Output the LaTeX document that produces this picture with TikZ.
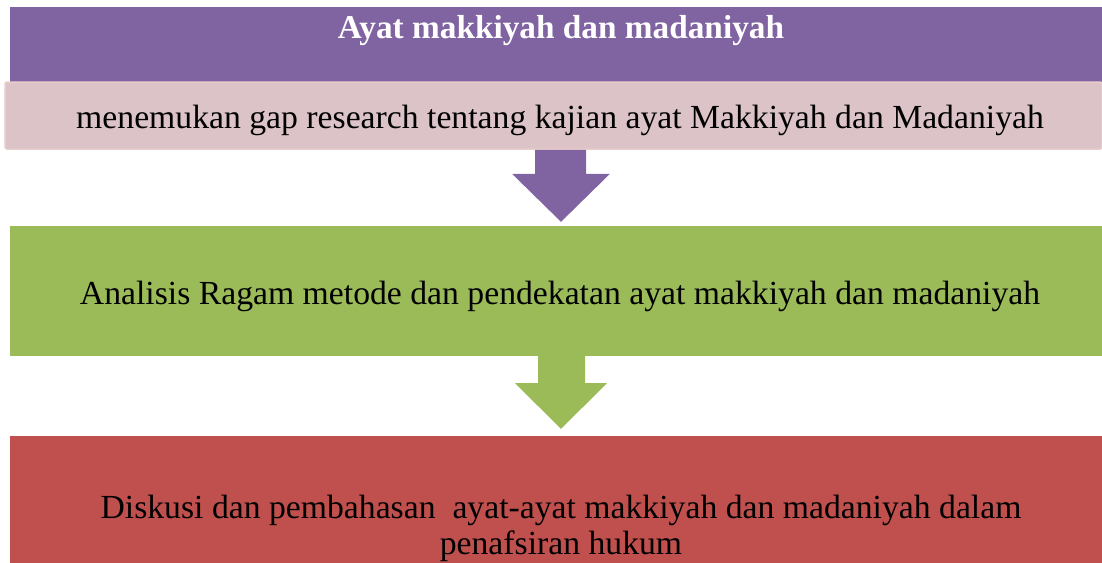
\documentclass[tikz,border=0pt]{standalone}
\usepackage{fontspec}
\setmainfont{Liberation Serif}
\usetikzlibrary{calc}
\definecolor{cpurple}{HTML}{8064A2}
\definecolor{cpink}{HTML}{DCC3C8}
\definecolor{cpinkedge}{HTML}{E8CDCC}
\definecolor{cgreen}{HTML}{9BBB59}
\definecolor{cred}{HTML}{C0504D}
\tikzset{
  band/.style={draw=none, inner sep=0pt, minimum width=1092pt},
  bodytext/.style={font=\fontsize{33.7}{36}\selectfont, anchor=base, align=center},
}
\begin{document}
\begin{tikzpicture}[x=1pt,y=-1pt]
\useasboundingbox (0,0) rectangle (1102,562);
\node[band, fill=cpurple, minimum height=75pt] (top) at (556,44.5) {};
\node[text=white, font=\fontsize{33.3}{36}\selectfont\bfseries, anchor=base] (title) at (561,38) {Ayat makkiyah dan madaniyah};
\node[band, fill=cpink, draw=cpinkedge, line width=1.5pt, rounded corners=2pt, minimum width=1097pt, minimum height=67pt] (gap) at (553.5,115.5) {};
\node[bodytext] (gaptext) at (560,128) {menemukan gap research tentang kajian ayat Makkiyah dan Madaniyah};
\node[band, fill=cgreen, minimum height=130pt] (ana) at (556,291) {};
\node[bodytext] (anatext) at (560,304) {Analisis Ragam metode dan pendekatan ayat makkiyah dan madaniyah};
\node[band, fill=cred, minimum height=178pt] (disk) at (556,525) {};
\node[bodytext] (disktext) at (561,554) {Diskusi dan pembahasan\ \ ayat-ayat makkiyah dan madaniyah dalam\\penafsiran hukum};
% block arrows
\fill[cpurple] ($(gap.south)+(-18.5,0)$) -- ($(gap.south)+(32.5,0)$) -- ($(gap.south)+(32.5,24)$) -- ($(gap.south)+(56.5,24)$) -- ($(ana.north)+(5,-4)$) -- ($(gap.south)+(-41.5,24)$) -- ($(gap.south)+(-18.5,24)$) -- cycle;
\fill[cgreen] ($(ana.south)+(-18,0)$) -- ($(ana.south)+(29,0)$) -- ($(ana.south)+(29,27)$) -- ($(ana.south)+(51,27)$) -- ($(disk.north)+(5,-7)$) -- ($(ana.south)+(-41,27)$) -- ($(ana.south)+(-18,27)$) -- cycle;
\end{tikzpicture}
\end{document}
